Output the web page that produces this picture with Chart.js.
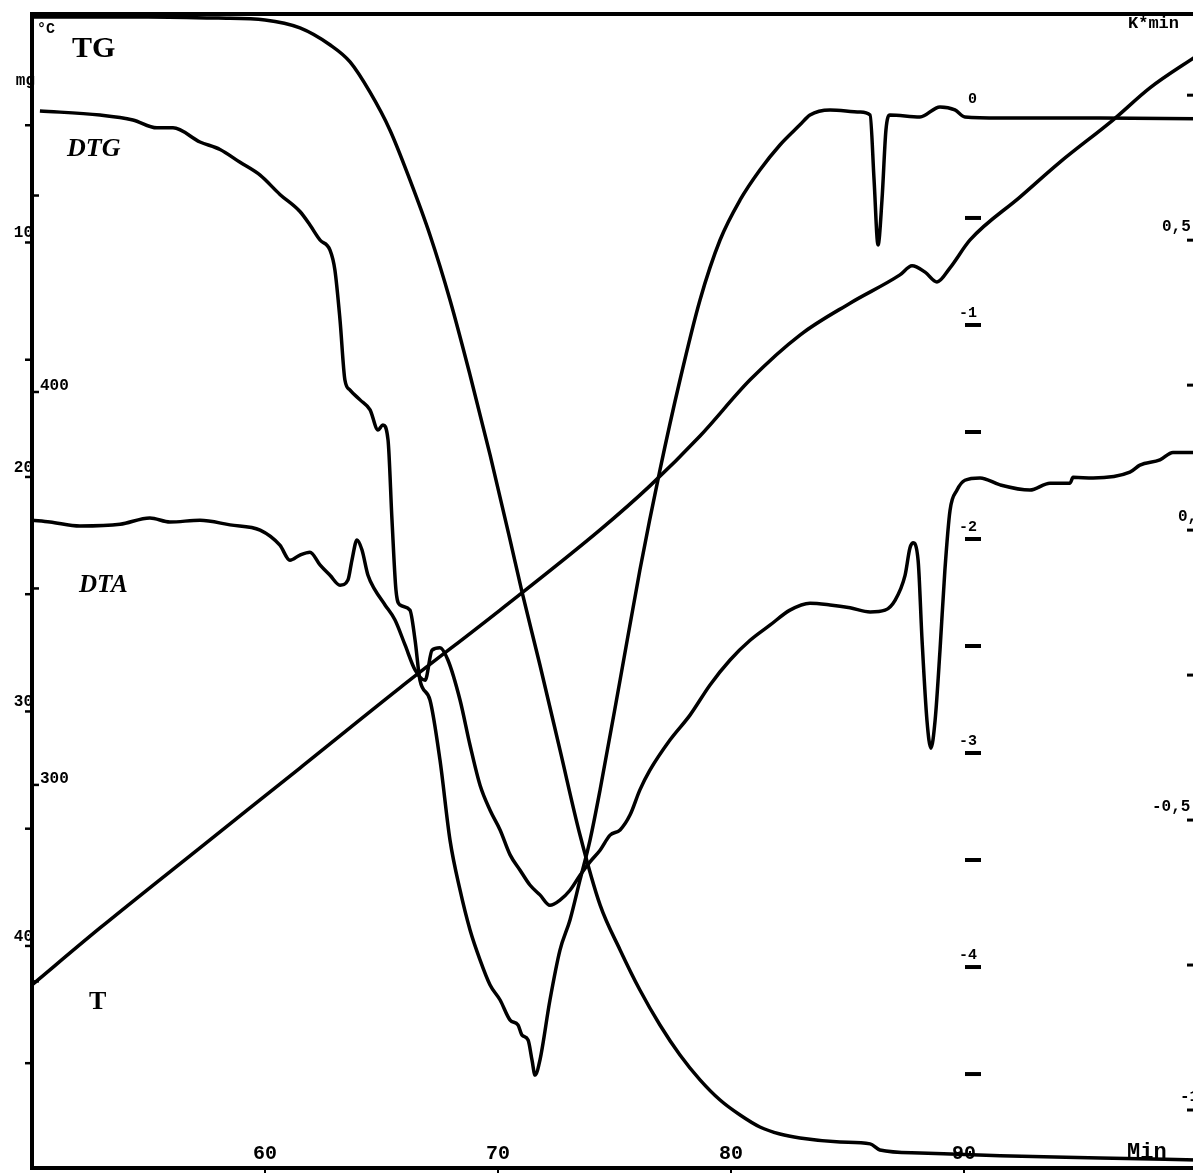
<!DOCTYPE html>
<html>
<head>
<meta charset="utf-8">
<script src="https://cdn.jsdelivr.net/npm/chart.js@4/dist/chart.umd.min.js"></script>
<style>
  html, body { margin: 0; padding: 0; background: #fff; overflow: hidden; width: 1193px; height: 1175px; }
  canvas { display: block; }
</style>
</head>
<body>
<canvas id="c" width="1240" height="1175"></canvas>
<script>
// ---- time axis (min) ----
const timeTicks = [60, 70, 80, 90];

// ---- TG: mass loss (mg) ----
const tgTime = [50, 55, 58, 60, 61.5, 62.8, 63.65, 64.5, 65.36, 66.22, 67.08, 67.94, 68.8, 69.66, 70.52, 71.03, 71.8, 72.66, 73.52, 74.38, 75.24, 76.09, 76.95, 77.81, 78.67, 79.53, 80.39, 81.24, 82.1, 82.96, 84.68, 85.97, 86.39, 88.11, 91.55, 95.84, 100];
const tgMass = [0.38, 0.38, 0.43, 0.51, 0.85, 1.58, 2.30, 3.58, 5.20, 7.33, 9.68, 12.45, 15.65, 19.06, 22.69, 24.90, 28.02, 31.64, 35.27, 38.25, 40.17, 41.88, 43.37, 44.65, 45.71, 46.57, 47.21, 47.72, 48.02, 48.19, 48.36, 48.44, 48.70, 48.83, 48.95, 49.04, 49.13];

// ---- T: sample temperature (°C) ----
const tempTime = [50, 52.92, 57.21, 61.5, 65.79, 70.09, 74.38, 76.52, 78.67, 80.82, 82.96, 85.11, 87.25, 87.77, 88.33, 88.84, 89.4, 90.26, 92.4, 94.12, 96.39, 97.98, 100];
const tempC = [249.1, 263.6, 284.0, 304.3, 324.7, 344.5, 364.9, 376.1, 388.8, 403.1, 414.5, 422.6, 429.8, 432.1, 430.5, 428.0, 431.6, 438.7, 449.6, 458.5, 469.2, 477.4, 485.6];

// ---- DTG: mass rate (mg/min) ----
const dtgTime = [50.34, 52.92, 54.33, 55.36, 56.05, 57.21, 58.07, 58.93, 59.79, 60.64, 61.5, 61.93, 62.36, 62.79, 63.0, 63.22, 63.43, 63.65, 64.08, 64.51, 64.85, 65.06, 65.28, 65.45, 65.62, 65.79, 66.22, 66.44, 66.65, 67.08, 67.51, 67.94, 68.37, 68.8, 69.23, 69.66, 70.09, 70.52, 70.86, 71.03, 71.29, 71.46, 71.59, 71.8, 72.23, 72.66, 73.09, 73.52, 73.95, 74.38, 75.24, 76.09, 76.95, 77.81, 78.67, 79.53, 80.39, 81.24, 82.1, 82.96, 83.39, 84.25, 85.54, 85.97, 86.14, 86.31, 86.48, 86.65, 86.82, 88.11, 88.97, 89.61, 90.04, 91.55, 95.84, 100];
const dtgRate = [0.0, -0.019, -0.042, -0.079, -0.079, -0.145, -0.18, -0.24, -0.30, -0.39, -0.47, -0.533, -0.603, -0.65, -0.743, -0.977, -1.257, -1.304, -1.35, -1.397, -1.491, -1.467, -1.537, -1.911, -2.238, -2.308, -2.332, -2.472, -2.659, -2.752, -3.033, -3.407, -3.64, -3.827, -3.967, -4.084, -4.154, -4.248, -4.271, -4.318, -4.341, -4.435, -4.505, -4.435, -4.154, -3.921, -3.78, -3.593, -3.407, -3.173, -2.659, -2.145, -1.678, -1.257, -0.883, -0.603, -0.416, -0.276, -0.159, -0.065, -0.019, 0.005, -0.005, -0.019, -0.322, -0.626, -0.416, -0.089, -0.019, -0.028, 0.019, 0.005, -0.028, -0.033, -0.033, -0.037];

// ---- DTA: heat-flow signal (K/min) ----
const dtaTime = [50, 50.77, 52.06, 53.78, 55.06, 55.92, 57.21, 58.5, 59.79, 60.64, 61.07, 61.5, 61.93, 62.36, 62.79, 63.22, 63.56, 63.73, 63.95, 64.16, 64.42, 64.72, 65.15, 65.58, 66.01, 66.44, 66.87, 67.17, 67.51, 67.85, 68.37, 68.8, 69.23, 69.66, 70.09, 70.52, 70.94, 71.37, 71.8, 72.23, 72.66, 73.09, 73.52, 73.95, 74.38, 74.81, 75.24, 75.67, 76.09, 76.52, 77.38, 78.24, 79.1, 79.96, 80.82, 81.67, 82.53, 83.39, 84.25, 85.11, 85.97, 86.61, 87.04, 87.47, 87.68, 87.81, 88.03, 88.2, 88.41, 88.58, 88.76, 88.97, 89.18, 89.4, 89.7, 90.04, 90.69, 91.55, 92.83, 93.69, 94.55, 94.68, 95.54, 97.12, 97.55, 98.41, 98.97, 100];
const dtaSignal = [0.017, 0.014, 0.007, 0.01, 0.021, 0.014, 0.017, 0.009, 0.0, -0.026, -0.052, -0.043, -0.038, -0.06, -0.078, -0.095, -0.086, -0.052, -0.017, -0.034, -0.078, -0.103, -0.129, -0.155, -0.198, -0.241, -0.259, -0.207, -0.203, -0.224, -0.293, -0.371, -0.44, -0.483, -0.517, -0.56, -0.586, -0.612, -0.629, -0.647, -0.638, -0.621, -0.595, -0.572, -0.552, -0.526, -0.517, -0.491, -0.448, -0.414, -0.362, -0.319, -0.267, -0.224, -0.19, -0.164, -0.138, -0.126, -0.129, -0.134, -0.141, -0.138, -0.121, -0.078, -0.031, -0.022, -0.052, -0.19, -0.328, -0.376, -0.328, -0.207, -0.069, 0.034, 0.069, 0.086, 0.09, 0.078, 0.069, 0.081, 0.081, 0.091, 0.09, 0.1, 0.112, 0.121, 0.134, 0.134];

// ---- axis tick values ----
const massLabelTicks = [10, 20, 30, 40];
const massMinorTicks = [5, 15, 25, 35, 45];
const tempLabelTicks = [300, 400];
const tempMinorTicks = [250, 350, 450];
const dtgLabelTicks = [0, -1, -2, -3, -4];
const dtgMarkTicks = [-0.5, -1, -1.5, -2, -2.5, -3, -3.5, -4, -4.5];
const dtaLabelTicks = [0.5, 0, -0.5, -1];
const dtaLabelText = ['0,5', '0,0', '-0,5', '-1,0'];
const dtaMarkTicks = [0.75, 0.5, 0.25, 0, -0.25, -0.5, -0.75, -1];

const pts = (xs, ys) => xs.map((x, i) => ({ x, y: ys[i] }));

const MONO = '"Liberation Mono", "DejaVu Sans Mono", monospace';
const SERIF = '"Liberation Serif", "DejaVu Serif", serif';

// Frame, axes and annotations drawn on top of the curves
const framePlugin = {
  id: 'framePlugin',
  afterDatasetsDraw(chart) {
    const { ctx, chartArea: a, scales: s } = chart;
    const W = chart.width;
    ctx.save();
    ctx.strokeStyle = '#000';
    ctx.fillStyle = '#000';
    ctx.lineCap = 'butt';

    // border
    ctx.lineWidth = 4;
    ctx.beginPath();
    ctx.moveTo(a.left, a.bottom + 2);
    ctx.lineTo(a.left, a.top);
    ctx.lineTo(W, a.top);
    ctx.moveTo(a.left - 2, a.bottom);
    ctx.lineTo(W, a.bottom);
    ctx.stroke();

    // mass axis (left, outside)
    ctx.lineWidth = 2.5;
    ctx.font = 'bold 16px ' + MONO;
    ctx.textAlign = 'right';
    ctx.textBaseline = 'alphabetic';
    massLabelTicks.concat(massMinorTicks).forEach(v => {
      const y = s.yMass.getPixelForValue(v);
      ctx.beginPath(); ctx.moveTo(a.left - 7, y); ctx.lineTo(a.left, y); ctx.stroke();
    });
    massLabelTicks.forEach(v => {
      const y = s.yMass.getPixelForValue(v);
      ctx.fillText(String(v), a.left + 1, y - 5);
    });
    ctx.fillText('mg', a.left + 3, 85);

    // temperature axis (left, inside)
    ctx.textAlign = 'left';
    tempLabelTicks.concat(tempMinorTicks).forEach(v => {
      const y = s.yTemp.getPixelForValue(v);
      ctx.beginPath(); ctx.moveTo(a.left, y); ctx.lineTo(a.left + 7, y); ctx.stroke();
    });
    tempLabelTicks.forEach(v => {
      const y = s.yTemp.getPixelForValue(v);
      ctx.fillText(String(v), a.left + 8, y - 2);
    });
    ctx.font = 'bold 15px ' + MONO;
    ctx.fillText('°C', a.left + 5, 33);

    // DTG axis (inner, right)
    const dx = a.right - 224;
    ctx.lineWidth = 4;
    dtgMarkTicks.forEach(v => {
      const y = s.yDtg.getPixelForValue(v);
      ctx.beginPath(); ctx.moveTo(dx - 8, y); ctx.lineTo(dx + 8, y); ctx.stroke();
    });
    ctx.font = 'bold 15px ' + MONO;
    ctx.textAlign = 'right';
    dtgLabelTicks.forEach(v => {
      const y = s.yDtg.getPixelForValue(v);
      ctx.fillText(v === 0 ? '0' : String(v), dx + 4, y - 8);
    });

    // DTA axis (right edge)
    ctx.lineWidth = 3;
    dtaMarkTicks.forEach(v => {
      const y = s.yDta.getPixelForValue(v);
      ctx.beginPath(); ctx.moveTo(a.right - 10, y); ctx.lineTo(a.right - 3, y); ctx.stroke();
    });
    ctx.font = 'bold 16px ' + MONO;
    ctx.textAlign = 'left';
    const dtaShift = [-35, -19, -45, -17];
    dtaLabelTicks.forEach((v, i) => {
      const y = s.yDta.getPixelForValue(v);
      ctx.fillText(dtaLabelText[i], a.right + dtaShift[i], y - 9);
    });
    ctx.font = 'bold 17px ' + MONO;
    ctx.fillText('K*min', a.right - 69, 28);

    // time axis labels (inside, above the bottom line)
    ctx.font = 'bold 20px ' + MONO;
    ctx.textAlign = 'center';
    timeTicks.forEach(v => {
      const x = s.x.getPixelForValue(v);
      ctx.fillText(String(v), x, a.bottom - 9);
      ctx.lineWidth = 2;
      ctx.beginPath(); ctx.moveTo(x, a.bottom); ctx.lineTo(x, a.bottom + 5); ctx.stroke();
    });
    ctx.textAlign = 'left';
    ctx.font = 'bold 22px ' + MONO;
    ctx.fillText('Min', a.right - 70, a.bottom - 10);

    // curve names
    ctx.font = 'bold 30px ' + SERIF;
    ctx.fillText('TG', 72, 57);
    ctx.font = 'italic bold 26px ' + SERIF;
    ctx.fillText('DTG', 67, 156);
    ctx.font = 'italic bold 25px ' + SERIF;
    ctx.fillText('DTA', 79, 592);
    ctx.font = 'bold 26px ' + SERIF;
    ctx.fillText('T', 89, 1009);

    ctx.restore();
  }
};

const lineStyle = {
  borderColor: '#000',
  borderWidth: 3.5,
  pointRadius: 0,
  fill: false,
  cubicInterpolationMode: 'monotone'
};

new Chart(document.getElementById('c'), {
  type: 'line',
  data: {
    datasets: [
      Object.assign({ label: 'TG', data: pts(tgTime, tgMass), yAxisID: 'yMass' }, lineStyle),
      Object.assign({ label: 'T', data: pts(tempTime, tempC), yAxisID: 'yTemp' }, lineStyle),
      Object.assign({ label: 'DTG', data: pts(dtgTime, dtgRate), yAxisID: 'yDtg' }, lineStyle),
      Object.assign({ label: 'DTA', data: pts(dtaTime, dtaSignal), yAxisID: 'yDta' }, lineStyle)
    ]
  },
  options: {
    responsive: false,
    animation: false,
    devicePixelRatio: 1,
    layout: { padding: { left: 32, top: 14, right: 43, bottom: 7 } },
    plugins: { legend: { display: false }, tooltip: { enabled: false } },
    scales: {
      x: { type: 'linear', min: 50, max: 100, display: false },
      yMass: { type: 'linear', min: 0.256, max: 49.47, reverse: true, display: false },
      yTemp: { type: 'linear', min: 202.5, max: 496.2, display: false },
      yDtg: { type: 'linear', min: -4.939, max: 0.453, display: false },
      yDta: { type: 'linear', min: -1.1, max: 0.89, display: false }
    }
  },
  plugins: [framePlugin]
});
</script>
</body>
</html>
